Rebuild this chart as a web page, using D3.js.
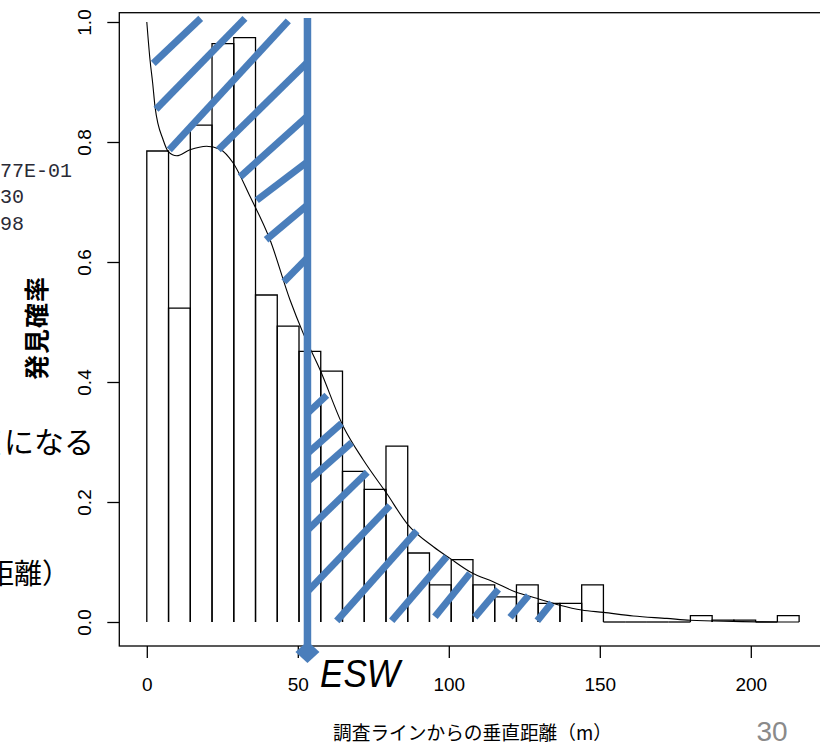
<!DOCTYPE html>
<html><head><meta charset="utf-8">
<script src="https://cdn.jsdelivr.net/npm/d3@7"></script>
<style>html,body{margin:0;padding:0;background:#fff;overflow:hidden}</style>
</head><body>
<svg id="c" width="820" height="744"></svg>
<script>
// ---- data ----
const binWidth = 7.2;
const barHeights = [0.785, 0.523, 0.828, 0.964, 0.974, 0.545, 0.493, 0.451, 0.418, 0.251,
                    0.221, 0.293, 0.115, 0.062, 0.104, 0.062, 0.042, 0.062, 0.031, 0.031,
                    0.062, 0, 0, 0, 0, 0.0105, 0.003, 0.003, 0, 0.0105];
const curveDist = [0, 1.06, 1.95, 2.72, 5.46, 7.12, 9.9, 14.3, 19.8, 24.2, 28.6, 34.2, 40.8, 47.4,
                   51.8, 57.4, 65.1, 71.7, 79.4, 86.5, 94.9, 100.4, 107.6, 114.7, 121.9, 129.1,
                   136.8, 144, 151.2, 161.1, 172.2, 180, 194.1, 208.7, 216];
const curveProb = [1.0, 0.937, 0.898, 0.859, 0.803, 0.784, 0.777, 0.787, 0.793, 0.788, 0.765, 0.709,
                   0.637, 0.537, 0.481, 0.42, 0.3255, 0.27, 0.2145, 0.162, 0.1255, 0.106, 0.082,
                   0.067, 0.0505, 0.0395, 0.028, 0.02, 0.016, 0.01, 0.006, 0.003, 0.001, 0, 0];
const xTicks = [0, 50, 100, 150, 200];
const yTicks = [0, 0.2, 0.4, 0.6, 0.8, 1.0];
const ESW = 53.2;
// hatch strokes (distance, probability) -> (distance, probability)
const hatchLeft = [
  [2.15, 0.931, 17.85, 1.006],
  [3.05, 0.8545, 32.5, 1.006],
  [7.45, 0.787, 46.85, 1.002],
  [23.7, 0.787, ESW, 0.933],
  [30.9, 0.742, ESW, 0.843],
  [36.4, 0.703, ESW, 0.767],
  [39.5, 0.637, ESW, 0.695],
  [45.4, 0.567, ESW, 0.607]
];
const hatchRight = [
  [ESW, 0.348, 59.6, 0.378],
  [ESW, 0.281, 64.5, 0.331],
  [ESW, 0.234, 67.85, 0.299],
  [ESW, 0.153, 73.0, 0.2495],
  [ESW, 0.0505, 80.5, 0.194],
  [62.9, 0.002, 89.4, 0.152],
  [81.1, 0.002, 99.3, 0.109],
  [95.4, 0.0088, 107.0, 0.081],
  [108.6, 0.0078, 116.4, 0.0545],
  [120.3, 0.0078, 126.4, 0.044],
  [129.3, 0.002, 134.1, 0.032]
];
const yTitle = "発見確率";
const xTitle = "調査ラインからの垂直距離（m）";
const eswLabel = "ESW";
const pageNo = "30";
const monoLines = ["77E-01", "30", "98"];
const sideCut = "値";
const sideText1 = "になる";
const sideText2 = "距離）";

// ---- drawing ----
const svg = d3.select("#c");
const BLUE = "#4A7EBB";
const x = d3.scaleLinear().domain([0, 200]).range([146.8, 750.8]);
const y = d3.scaleLinear().domain([0, 1]).range([622, 22]);
const boxLeft = 119.3, boxTop = 12.7, boxBottom = 646;

// left-side slide text (partially cut, as in the slide)
svg.append("g").selectAll("text").data(monoLines).join("text")
  .attr("x", 0).attr("y", (d, i) => 177 + i * 26.3)
  .attr("font-family", "'Liberation Mono', monospace").attr("font-size", 20)
  .attr("fill", "#2a2a36").text(d => d);
svg.append("text").attr("x", -29).attr("y", 453)
  .attr("font-family", "'Noto Sans CJK JP', sans-serif").attr("font-size", 30)
  .attr("fill", "#000").text(sideCut);
svg.append("text").attr("x", 4).attr("y", 453)
  .attr("font-family", "'Noto Sans CJK JP', sans-serif").attr("font-size", 30)
  .attr("fill", "#000").text(sideText1);
svg.append("text").attr("x", -14).attr("y", 584)
  .attr("font-family", "'Noto Sans CJK JP', sans-serif").attr("font-size", 28)
  .attr("fill", "#000").text(sideText2);

// box
svg.append("rect").attr("x", boxLeft).attr("y", boxTop)
  .attr("width", 760).attr("height", boxBottom - boxTop)
  .attr("fill", "none").attr("stroke", "#000").attr("stroke-width", 1.3);

// y axis
const ya = svg.append("g").attr("transform", `translate(${boxLeft},0)`)
  .call(d3.axisLeft(y).tickValues(yTicks).tickSize(12).tickFormat(d3.format(".1f")));
ya.select(".domain").remove();
ya.selectAll("line").attr("stroke", "#000").attr("stroke-width", 1.3);
ya.selectAll("text").attr("x", null).attr("dy", null)
  .attr("transform", "translate(-28.3,0) rotate(-90)")
  .attr("text-anchor", "middle").attr("fill", "#000")
  .attr("font-family", "'Liberation Sans', Arial, sans-serif").attr("font-size", 19);

// x axis
const xa = svg.append("g").attr("transform", `translate(0,${boxBottom})`)
  .call(d3.axisBottom(x).tickValues(xTicks).tickSize(12).tickFormat(d3.format("d")));
xa.select(".domain").remove();
xa.selectAll("line").attr("stroke", "#000").attr("stroke-width", 1.3);
xa.selectAll("text").attr("y", 44.5).attr("dy", null).attr("fill", "#000")
  .attr("font-family", "'Liberation Sans', Arial, sans-serif").attr("font-size", 19);

// titles
svg.append("text").attr("transform", "translate(35,328) rotate(-90)")
  .attr("text-anchor", "middle").attr("dominant-baseline", "central")
  .attr("font-family", "'Noto Sans CJK JP', sans-serif").attr("font-weight", "bold")
  .attr("font-size", 25).attr("letter-spacing", 1).text(yTitle);
svg.append("text").attr("x", 333).attr("y", 740)
  .attr("textLength", 279).attr("lengthAdjust", "spacingAndGlyphs")
  .attr("font-family", "'Noto Sans CJK JP', sans-serif").attr("font-size", 19)
  .attr("fill", "#000").text(xTitle);
svg.append("text").attr("x", 772).attr("y", 741).attr("text-anchor", "middle")
  .attr("font-family", "'Liberation Sans', Arial, sans-serif").attr("font-size", 28)
  .attr("fill", "#8a8a8a").text(pageNo);

// histogram bars (outline without bottom edge)
const base = y(0);
svg.append("g").selectAll("path").data(barHeights).join("path")
  .attr("d", (h, i) => {
    const x0 = x(i * binWidth), x1 = x((i + 1) * binWidth), yt = y(h);
    return `M${x0},${base}V${yt}H${x1}V${base}`;
  })
  .attr("fill", "none").attr("stroke", "#000").attr("stroke-width", 1.3);

// detection function curve
const curvePts = curveDist.map((d, i) => [d, curveProb[i]]);
svg.append("path").datum(curvePts)
  .attr("d", d3.line().x(d => x(d[0])).y(d => y(d[1])).curve(d3.curveMonotoneX))
  .attr("fill", "none").attr("stroke", "#000").attr("stroke-width", 1.1);

// hatching
svg.append("g").selectAll("line").data(hatchLeft.concat(hatchRight)).join("line")
  .attr("x1", d => x(d[0])).attr("y1", d => y(d[1]))
  .attr("x2", d => x(d[2])).attr("y2", d => y(d[3]))
  .attr("stroke", BLUE).attr("stroke-width", 7).attr("stroke-linecap", "butt");

// ESW line with diamond end
const ex = x(ESW);
svg.append("line").attr("x1", ex).attr("x2", ex).attr("y1", 18).attr("y2", 646)
  .attr("stroke", BLUE).attr("stroke-width", 7.5);
svg.append("path")
  .attr("d", `M${ex},641L${ex + 12},652L${ex},663L${ex - 12},652Z`)
  .attr("fill", BLUE);

// ESW label
svg.append("text").attr("x", 320).attr("y", 686.5)
  .attr("textLength", 80).attr("lengthAdjust", "spacingAndGlyphs")
  .attr("font-family", "'Liberation Sans', Arial, sans-serif").attr("font-style", "italic")
  .attr("font-size", 38).attr("fill", "#000").text(eswLabel);
</script>
</body></html>
